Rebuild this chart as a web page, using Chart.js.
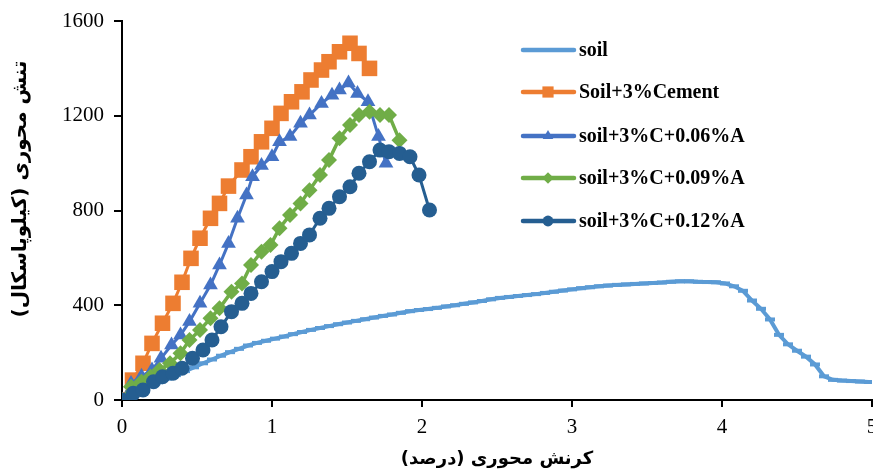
<!DOCTYPE html>
<html>
<head>
<meta charset="utf-8">
<script src="https://cdn.jsdelivr.net/npm/chart.js@4.4.1/dist/chart.umd.min.js"></script>
<style>
html,body{margin:0;padding:0;background:#fff;}
#wrap{position:relative;width:873px;height:475px;}
</style>
</head>
<body>
<div id="wrap"><canvas id="c" width="873" height="475"></canvas></div>
<script>
// ---- data ----
const seriesNames = ["soil", "Soil+3%Cement", "soil+3%C+0.06%A", "soil+3%C+0.09%A", "soil+3%C+0.12%A"];
const xTitle = 'کرنش محوری (درصد)';
const yTitle = 'تنش محوری (کیلوپاسکال)';
const xTicks = [0, 1, 2, 3, 4, 5];
const yTicks = [0, 400, 800, 1200, 1600];

const soilX = [0,0.06,0.12,0.18,0.24,0.30,0.36,0.42,0.48,0.54,0.60,0.66,0.72,0.78,0.84,0.90,0.96,1.02,1.08,1.14,1.20,1.26,1.32,1.38,1.44,1.50,1.56,1.62,1.68,1.74,1.80,1.86,1.92,1.98,2.04,2.10,2.16,2.22,2.28,2.34,2.40,2.46,2.52,2.58,2.64,2.70,2.76,2.82,2.88,2.94,3.00,3.06,3.12,3.18,3.24,3.30,3.36,3.42,3.48,3.54,3.60,3.66,3.72,3.78,3.84,3.90,3.96,4.02,4.08,4.14,4.20,4.26,4.32,4.38,4.44,4.50,4.56,4.62,4.68,4.74,4.80,4.86,4.92,4.98];
const soilY = [0,22,43,60,75,90,105,122,138,155,171,187,202,216,230,241,250,259,268,278,287,296,304,312,320,327,334,341,348,355,361,368,375,380,384,389,395,400,406,412,418,425,431,435,439,443,447,452,457,462,467,472,476,480,483,486,488,490,492,494,496,499,501,501,499,498,497,492,480,461,420,385,340,275,235,208,183,150,100,85,82,80,78,76];

const cementX = [0,0.07,0.14,0.20,0.27,0.34,0.40,0.46,0.52,0.59,0.65,0.71,0.80,0.86,0.93,1.00,1.06,1.13,1.20,1.26,1.33,1.38,1.45,1.52,1.58,1.65];
const cementY = [0,84,155,239,324,408,497,598,683,767,830,903,971,1027,1090,1147,1210,1259,1301,1351,1393,1428,1470,1506,1463,1400];

const c06X = [0,0.06,0.13,0.20,0.26,0.33,0.39,0.45,0.52,0.59,0.65,0.71,0.77,0.83,0.87,0.93,1.00,1.05,1.12,1.19,1.25,1.33,1.40,1.45,1.51,1.57,1.64,1.71,1.76];
const c06Y = [0,70,100,127,176,232,274,331,408,485,570,661,767,865,943,990,1027,1090,1112,1168,1203,1252,1287,1309,1338,1294,1259,1112,999];

const c09X = [0,0.06,0.13,0.19,0.25,0.32,0.39,0.45,0.52,0.59,0.65,0.73,0.80,0.86,0.93,0.99,1.05,1.12,1.19,1.25,1.32,1.38,1.45,1.52,1.58,1.65,1.72,1.78,1.85];
const c09Y = [0,56,77,98,127,155,197,253,295,345,387,457,492,570,626,654,725,781,830,886,950,1013,1105,1161,1203,1217,1203,1203,1097];

const c12X = [0,0.075,0.14,0.21,0.27,0.34,0.40,0.47,0.54,0.60,0.66,0.73,0.80,0.86,0.93,1.00,1.06,1.13,1.19,1.25,1.32,1.38,1.45,1.52,1.58,1.65,1.72,1.78,1.85,1.92,1.98,2.05];
const c12Y = [0,28,42,77,98,113,134,176,211,253,309,373,408,450,499,542,584,619,661,697,767,809,858,900,957,1006,1055,1048,1041,1027,950,802];

const colors = ["#5B9BD5", "#ED7D31", "#4472C4", "#70AD47", "#255E91"];

function pts(xs, ys){ return xs.map((x,i)=>({x:x, y:ys[i]})); }

const datasets = [
  {label: seriesNames[0], data: pts(soilX, soilY), borderColor: colors[0], backgroundColor: colors[0], borderWidth: 4,
   pointStyle: 'line', pointRadius: 5, pointBorderWidth: 4, pointBorderColor: colors[0], order: 5},
  {label: seriesNames[1], data: pts(cementX, cementY), borderColor: colors[1], backgroundColor: colors[1], borderWidth: 3,
   pointStyle: 'rect', pointRadius: 11, pointBorderWidth: 0, order: 4},
  {label: seriesNames[2], data: pts(c06X, c06Y), borderColor: colors[2], backgroundColor: colors[2], borderWidth: 3,
   pointStyle: 'triangle', pointRadius: 8.5, pointBorderWidth: 0, order: 3},
  {label: seriesNames[3], data: pts(c09X, c09Y), borderColor: colors[3], backgroundColor: colors[3], borderWidth: 3.5,
   pointStyle: 'rectRot', pointRadius: 8, pointBorderWidth: 0, order: 2},
  {label: seriesNames[4], data: pts(c12X, c12Y), borderColor: colors[4], backgroundColor: colors[4], borderWidth: 3,
   pointStyle: 'circle', pointRadius: 7.5, pointBorderWidth: 0, order: 1}
];

const decorPlugin = {
  id: 'decor',
  afterDraw(chart){
    const ctx = chart.ctx;
    const rows = [50, 92, 136, 178, 221];
    ctx.save();
    chart.data.datasets.forEach((ds, i) => {
      const y = rows[i];
      ctx.strokeStyle = ds.borderColor;
      ctx.lineWidth = 4.5;
      ctx.lineCap = 'round';
      ctx.beginPath(); ctx.moveTo(523, y); ctx.lineTo(574, y); ctx.stroke();
      if (i > 0) {
        ctx.fillStyle = ds.backgroundColor;
        Chart.helpers.drawPoint(ctx, {pointStyle: ds.pointStyle, radius: ds.pointRadius * 0.72, borderWidth: 0, rotation: 0}, 548, y);
      }
      ctx.fillStyle = '#000';
      ctx.font = 'bold 20px "Liberation Serif"';
      ctx.textAlign = 'left';
      ctx.textBaseline = 'middle';
      ctx.fillText(ds.label, 579, y + 1);
    });
    // y axis title
    ctx.save();
    ctx.translate(21, 189);
    ctx.rotate(-Math.PI / 2);
    ctx.fillStyle = '#000';
    ctx.font = 'bold 20px "DejaVu Sans"';
    ctx.textAlign = 'center';
    ctx.textBaseline = 'middle';
    ctx.direction = 'rtl';
    ctx.fillText(yTitle, 0, 0);
    ctx.restore();
    ctx.restore();
  }
};

new Chart(document.getElementById('c'), {
  type: 'line',
  data: { datasets },
  options: {
    responsive: false,
    animation: false,
    devicePixelRatio: 1,
    layout: { autoPadding: false, padding: { left: 0, right: 1, top: 21, bottom: 0 } },
    plugins: { legend: { display: false }, tooltip: { enabled: false } },
    elements: { line: { tension: 0, fill: false } },
    scales: {
      x: {
        type: 'linear', min: 0, max: 5,
        afterBuildTicks(s){ s.ticks = xTicks.map(v => ({value: v})); },
        afterFit(s){ s.height = 75; s.paddingLeft = 0; s.paddingRight = 0; },
        grid: { display: true, drawOnChartArea: false, drawTicks: true, tickLength: 7, color: '#000', lineWidth: 2 },
        border: { display: true, color: '#000', width: 2 },
        ticks: { color: '#000', font: { family: '"Liberation Serif"', size: 21 }, padding: 8, maxRotation: 0, callback: v => String(v) },
        title: { display: true, text: xTitle, color: '#000', font: { family: '"DejaVu Sans"', size: 18, weight: 'bold' }, padding: { top: 4, bottom: 5 } }
      },
      y: {
        type: 'linear', min: 0, max: 1600,
        afterBuildTicks(s){ s.ticks = yTicks.map(v => ({value: v})); },
        afterFit(s){ s.width = 122; s.paddingTop = 0; s.paddingBottom = 0; },
        grid: { display: true, drawOnChartArea: false, drawTicks: true, tickLength: 8, color: '#000', lineWidth: 2 },
        border: { display: true, color: '#000', width: 2 },
        ticks: { color: '#000', font: { family: '"Liberation Serif"', size: 21 }, padding: 10, callback: v => String(v) },
        title: { display: false }
      }
    }
  },
  plugins: [decorPlugin]
});
</script>
</body>
</html>
